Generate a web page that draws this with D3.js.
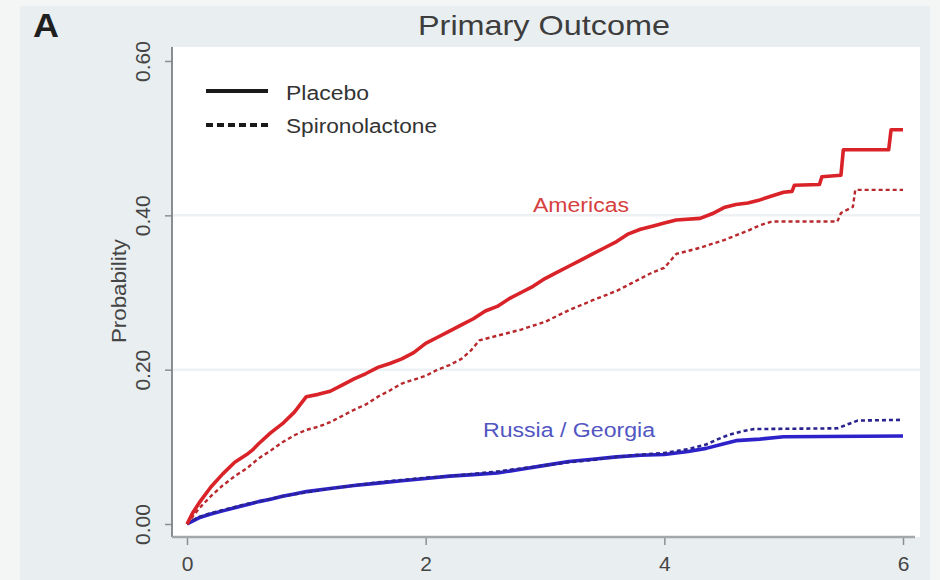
<!DOCTYPE html>
<html>
<head>
<meta charset="utf-8">
<script src="https://cdn.jsdelivr.net/npm/d3@7"></script>
<style>
  html, body { margin: 0; padding: 0; background: #f4f5f5; }
  svg { display: block; font-family: "Liberation Sans", Arial, sans-serif; }
</style>
</head>
<body>
<svg id="chart" width="940" height="580"></svg>
<script>
// Kaplan-Meier cumulative probability of the primary outcome, by region and treatment arm
const yearsPlaceboAmericas = [0,0.05,0.1,0.2,0.3,0.4,0.5,0.55,0.6,0.7,0.8,0.9,0.95,1.0,1.1,1.2,1.3,1.4,1.5,1.6,1.7,1.8,1.9,2.0,2.1,2.2,2.3,2.4,2.5,2.6,2.7,2.8,2.9,3.0,3.1,3.2,3.3,3.4,3.5,3.6,3.7,3.8,3.9,4.0,4.1,4.3,4.4,4.5,4.6,4.7,4.8,4.9,5.0,5.07,5.09,5.3,5.32,5.48,5.5,5.88,5.9,6.0];
const probPlaceboAmericas  = [0,0.015,0.027,0.048,0.065,0.08,0.09,0.096,0.104,0.118,0.13,0.145,0.155,0.165,0.168,0.172,0.18,0.188,0.195,0.203,0.208,0.214,0.222,0.234,0.242,0.25,0.258,0.266,0.276,0.282,0.292,0.3,0.308,0.318,0.326,0.334,0.342,0.35,0.358,0.366,0.376,0.382,0.386,0.39,0.394,0.396,0.402,0.41,0.414,0.416,0.42,0.425,0.43,0.431,0.439,0.44,0.45,0.452,0.485,0.485,0.511,0.511];

const yearsSpiroAmericas = [0,0.05,0.1,0.2,0.3,0.4,0.5,0.6,0.7,0.8,0.9,1.0,1.1,1.2,1.3,1.4,1.5,1.6,1.7,1.8,1.9,2.0,2.1,2.2,2.3,2.38,2.45,2.6,2.8,3.0,3.2,3.4,3.6,3.8,3.9,4.0,4.1,4.3,4.5,4.7,4.8,4.9,5.45,5.48,5.58,5.6,6.0];
const probSpiroAmericas  = [0,0.01,0.02,0.036,0.05,0.062,0.072,0.085,0.095,0.106,0.115,0.122,0.126,0.132,0.14,0.148,0.155,0.165,0.173,0.182,0.187,0.192,0.2,0.206,0.214,0.225,0.238,0.244,0.252,0.262,0.277,0.29,0.302,0.318,0.326,0.332,0.35,0.358,0.368,0.38,0.387,0.392,0.392,0.403,0.411,0.433,0.433];

const yearsPlaceboRussia = [0,0.05,0.1,0.2,0.3,0.4,0.5,0.6,0.7,0.8,0.9,1.0,1.2,1.4,1.6,1.8,2.0,2.2,2.4,2.6,2.8,3.0,3.2,3.4,3.6,3.8,4.0,4.2,4.35,4.5,4.6,4.8,5.0,6.0];
const probPlaceboRussia  = [0,0.004,0.008,0.013,0.017,0.021,0.025,0.029,0.032,0.036,0.039,0.042,0.046,0.05,0.053,0.056,0.059,0.062,0.064,0.066,0.071,0.076,0.081,0.084,0.087,0.089,0.09,0.094,0.098,0.104,0.108,0.11,0.113,0.114];

const yearsSpiroRussia = [0,0.1,0.2,0.3,0.4,0.5,0.6,0.8,1.0,1.2,1.4,1.6,1.8,2.0,2.2,2.4,2.6,2.8,3.0,3.2,3.4,3.6,3.8,4.0,4.2,4.35,4.45,4.55,4.65,4.75,5.45,5.55,5.62,6.0];
const probSpiroRussia  = [0,0.009,0.014,0.018,0.022,0.026,0.029,0.036,0.041,0.046,0.05,0.054,0.057,0.06,0.062,0.065,0.068,0.072,0.076,0.08,0.083,0.087,0.09,0.092,0.097,0.103,0.11,0.116,0.12,0.123,0.124,0.13,0.134,0.135];

const xTickValues = [0, 2, 4, 6];
const yTickValues = [0, 0.2, 0.4, 0.6];
const gridValues = [0.2, 0.4];
const legendLabels = ["Placebo", "Spironolactone"];
const regionLabels = ["Americas", "Russia / Georgia"];

const svg = d3.select("#chart");

// Graph region and plot region backgrounds
svg.append("rect").attr("x", 20).attr("y", 6).attr("width", 910).attr("height", 574).attr("fill", "#e9eff1");
const plot = { left: 172, right: 920, top: 47, bottom: 537 };
svg.append("rect").attr("x", plot.left).attr("y", plot.top)
  .attr("width", plot.right - plot.left).attr("height", plot.bottom - plot.top).attr("fill", "#ffffff");

const x = d3.scaleLinear().domain([0, 6]).range([187, 903]);
const y = d3.scaleLinear().domain([0, 0.6]).range([524, 61]);

// Horizontal grid
svg.append("g").selectAll("line").data(gridValues).join("line")
  .attr("x1", plot.left).attr("x2", plot.right)
  .attr("y1", d => y(d)).attr("y2", d => y(d))
  .attr("stroke", "#edf1f3").attr("stroke-width", 2.5);

// Y axis with vertical tick labels
const yAxis = svg.append("g").attr("transform", `translate(${plot.left},0)`)
  .call(d3.axisLeft(y).tickValues(yTickValues).tickFormat(d3.format(".2f")).tickSize(7));
yAxis.select(".domain").remove();
yAxis.selectAll(".tick line").attr("stroke", "#8a8f92").attr("stroke-width", 1.5);
yAxis.selectAll(".tick text")
  .attr("transform", "rotate(-90)").attr("x", 0).attr("y", -22).attr("dy", 0)
  .attr("text-anchor", "middle").attr("fill", "#454545")
  .style("font-size", "21px").style("font-family", "Liberation Sans, Arial, sans-serif");
svg.append("line").attr("x1", plot.left).attr("x2", plot.left).attr("y1", plot.top).attr("y2", plot.bottom)
  .attr("stroke", "#7d8285").attr("stroke-width", 1.8);

// X axis
const xAxis = svg.append("g").attr("transform", `translate(0,${plot.bottom})`)
  .call(d3.axisBottom(x).tickValues(xTickValues).tickFormat(d3.format("d")).tickSize(8));
xAxis.select(".domain").remove();
xAxis.selectAll(".tick line").attr("stroke", "#8a8f92").attr("stroke-width", 1.5);
xAxis.selectAll(".tick text").attr("y", 34).attr("dy", 0).attr("fill", "#454545")
  .style("font-size", "21px").style("font-family", "Liberation Sans, Arial, sans-serif");
svg.append("line").attr("x1", plot.left).attr("x2", 915).attr("y1", plot.bottom).attr("y2", plot.bottom)
  .attr("stroke", "#a4a8ab").attr("stroke-width", 2.5);

// Y axis title
svg.append("text").attr("transform", "translate(126,291) rotate(-90)")
  .attr("text-anchor", "middle").attr("fill", "#454545")
  .attr("textLength", 104).attr("lengthAdjust", "spacingAndGlyphs")
  .style("font-size", "20px").text("Probability");

// Curves
const line = d3.line().x(d => x(d[0])).y(d => y(d[1])).curve(d3.curveLinear);
const series = [
  { t: yearsPlaceboRussia,   p: probPlaceboRussia,   color: "#2d22c9", width: 3.6, dash: null },
  { t: yearsSpiroRussia,     p: probSpiroRussia,     color: "#29238f", width: 2.6, dash: "4,3" },
  { t: yearsSpiroAmericas,   p: probSpiroAmericas,   color: "#b8282c", width: 2.4, dash: "4,3" },
  { t: yearsPlaceboAmericas, p: probPlaceboAmericas, color: "#d92329", width: 3.6, dash: null }
];
svg.append("g").selectAll("path").data(series).join("path")
  .attr("d", s => line(d3.zip(s.t, s.p)))
  .attr("fill", "none").attr("stroke", s => s.color).attr("stroke-width", s => s.width)
  .attr("stroke-dasharray", s => s.dash).attr("stroke-linejoin", "round");

// Region labels
svg.append("text").attr("x", 533).attr("y", 212).attr("fill", "#d6403f")
  .attr("textLength", 96).attr("lengthAdjust", "spacingAndGlyphs")
  .style("font-size", "20px").text(regionLabels[0]);
svg.append("text").attr("x", 483).attr("y", 437).attr("fill", "#5256c2")
  .attr("textLength", 172).attr("lengthAdjust", "spacingAndGlyphs")
  .style("font-size", "20px").text(regionLabels[1]);

// Legend
const legend = svg.append("g");
legend.append("line").attr("x1", 206).attr("x2", 268).attr("y1", 91).attr("y2", 91)
  .attr("stroke", "#1a1a1a").attr("stroke-width", 4);
legend.append("line").attr("x1", 206).attr("x2", 270).attr("y1", 125).attr("y2", 125)
  .attr("stroke", "#1a1a1a").attr("stroke-width", 4).attr("stroke-dasharray", "7,4");
legend.append("text").attr("x", 286).attr("y", 100).attr("fill", "#333")
  .attr("textLength", 83).attr("lengthAdjust", "spacingAndGlyphs")
  .style("font-size", "20px").text(legendLabels[0]);
legend.append("text").attr("x", 286).attr("y", 133).attr("fill", "#333")
  .attr("textLength", 151).attr("lengthAdjust", "spacingAndGlyphs")
  .style("font-size", "20px").text(legendLabels[1]);

// Title and panel letter
svg.append("text").attr("x", 418).attr("y", 35).attr("fill", "#3d3d3d")
  .attr("textLength", 252).attr("lengthAdjust", "spacingAndGlyphs")
  .style("font-size", "28px").text("Primary Outcome");
svg.append("text").attr("x", 33).attr("y", 37).attr("fill", "#1f1f1f")
  .attr("textLength", 26).attr("lengthAdjust", "spacingAndGlyphs")
  .style("font-size", "34px").style("font-weight", "bold").text("A");
</script>
</body>
</html>
